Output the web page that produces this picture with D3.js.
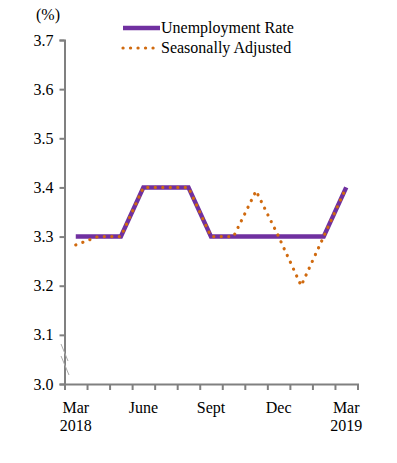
<!DOCTYPE html>
<html>
<head>
<meta charset="utf-8">
<script src="https://cdn.jsdelivr.net/npm/d3@7"></script>
<style>
  body { margin: 0; background: #fff; }
</style>
</head>
<body>
<div id="chart"></div>
<script>
var months = ['Mar', 'Apr', 'May', 'June', 'Jul', 'Aug', 'Sept', 'Oct', 'Nov', 'Dec', 'Jan', 'Feb', 'Mar']
var shownLabels = [0, 3, 6, 9, 12]
var yearLabels = {0: '2018', 12: '2019'}
var unemployment = [3.3, 3.3, 3.3, 3.4, 3.4, 3.4, 3.3, 3.3, 3.3, 3.3, 3.3, 3.3, 3.4]
var seasonal = [3.283, 3.3, 3.3, 3.4, 3.4, 3.4, 3.3, 3.3, 3.393, 3.3, 3.2, 3.3, 3.4]
var yTicks = [3.0, 3.1, 3.2, 3.3, 3.4, 3.5, 3.6, 3.7]

var width = 397, height = 463
var axisColor = '#808080'
var font = '"Liberation Serif", "DejaVu Serif", serif'
var fontSize = '16px'

var svg = d3.select('#chart').append('svg')
  .attr('width', width)
  .attr('height', height)

// x: month slots, ticks at slot edges, points at slot centers
var x = d3.scaleLinear().domain([0, months.length]).range([64.5, 357.5])
var y = d3.scaleLinear().domain([3.0, 3.7]).range([384, 40])

// y axis
var yAxis = svg.append('g')
  .attr('transform', 'translate(64.5,0)')
  .call(d3.axisLeft(y).tickValues(yTicks).tickSize(5).tickPadding(6).tickFormat(d3.format('.1f')))
yAxis.attr('font-family', null).attr('font-size', null)
yAxis.select('.domain').attr('stroke', axisColor).attr('stroke-width', 2)
yAxis.selectAll('.tick line').attr('stroke', axisColor).attr('stroke-width', 2)
yAxis.selectAll('.tick text')
  .style('font-family', font).style('font-size', fontSize).attr('fill', '#000')

// x axis
var xAxis = svg.append('g')
  .attr('transform', 'translate(0,384)')
  .call(d3.axisBottom(x).tickValues(d3.range(months.length + 1)).tickSize(6).tickFormat(''))
xAxis.select('.domain').attr('stroke', axisColor).attr('stroke-width', 2)
xAxis.selectAll('.tick line').attr('stroke', axisColor).attr('stroke-width', 2)

svg.selectAll('.month-label')
  .data(shownLabels)
  .enter().append('text')
  .attr('class', 'month-label')
  .attr('x', function(i) { return x(i + 0.5) })
  .attr('y', 413)
  .attr('text-anchor', 'middle')
  .style('font-family', font).style('font-size', fontSize)
  .text(function(i) { return months[i] })

svg.selectAll('.year-label')
  .data(Object.keys(yearLabels))
  .enter().append('text')
  .attr('class', 'year-label')
  .attr('x', function(i) { return x(+i + 0.5) })
  .attr('y', 431)
  .attr('text-anchor', 'middle')
  .style('font-family', font).style('font-size', fontSize)
  .text(function(i) { return yearLabels[i] })

// axis break marks
svg.append('line').attr('x1', 61).attr('y1', 344).attr('x2', 68).attr('y2', 361)
  .attr('stroke', '#aaa').attr('stroke-width', 1)
svg.append('line').attr('x1', 61).attr('y1', 356).attr('x2', 69).attr('y2', 375)
  .attr('stroke', '#aaa').attr('stroke-width', 1)

svg.append('text')
  .attr('x', 48).attr('y', 20)
  .attr('text-anchor', 'middle')
  .style('font-family', font).style('font-size', fontSize)
  .text('(%)')

var line = d3.line()
  .x(function(d, i) { return x(i + 0.5) })
  .y(function(d) { return y(d) })

svg.append('path')
  .datum(unemployment)
  .attr('d', line)
  .attr('fill', 'none')
  .attr('stroke', '#7030A0')
  .attr('stroke-width', 4.5)

svg.append('path')
  .datum(seasonal)
  .attr('d', line)
  .attr('fill', 'none')
  .attr('stroke', '#D06A0F')
  .attr('stroke-width', 3.2)
  .attr('stroke-linecap', 'round')
  .attr('stroke-dasharray', '0.1 7.4')

// legend
var legend = svg.append('g')
var legendItems = [
  {name: 'Unemployment Rate', color: '#7030A0', w: 4.5, dash: null},
  {name: 'Seasonally Adjusted', color: '#D06A0F', w: 3.2, dash: '0.1 7.4'}
]
legendItems.forEach(function(d, i) {
  var ly = 28 + i * 20
  var l = legend.append('line')
    .attr('x1', 123).attr('x2', 160).attr('y1', ly).attr('y2', ly)
    .attr('stroke', d.color).attr('stroke-width', d.w)
    .attr('stroke-linecap', d.dash ? 'round' : 'butt')
  if (d.dash) l.attr('stroke-dasharray', d.dash)
  legend.append('text')
    .attr('x', 161).attr('y', ly + 5)
    .style('font-family', font).style('font-size', fontSize)
    .text(d.name)
})
</script>
</body>
</html>
